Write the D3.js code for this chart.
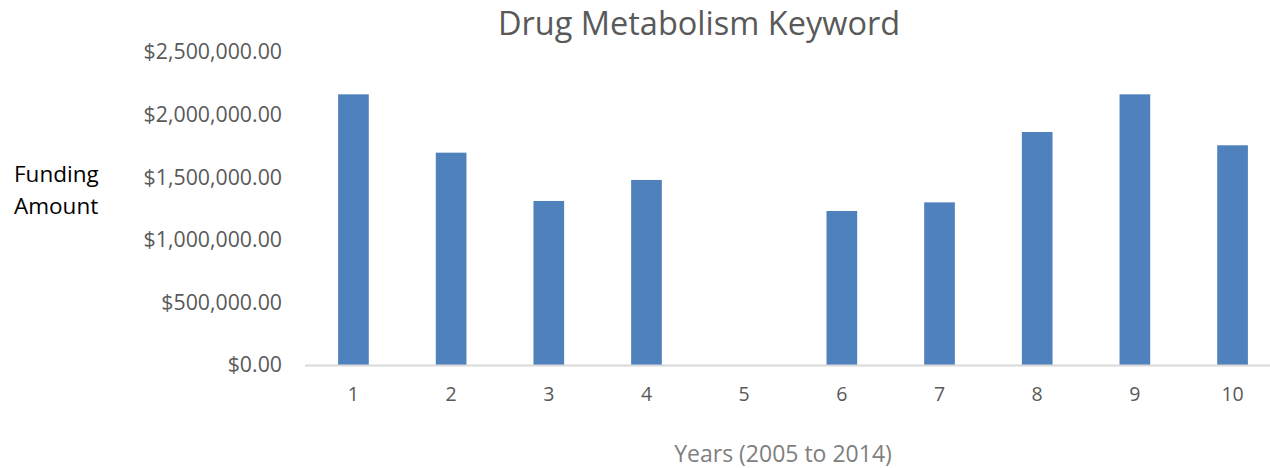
<!DOCTYPE html>
<html>
<head>
<meta charset="utf-8">
<script src="https://cdn.jsdelivr.net/npm/d3@7"></script>
<style>
  body { margin: 0; background: #fff; }
  text { font-family: "Open Sans", "Liberation Sans", sans-serif; }
</style>
</head>
<body>
<div id="chart"></div>
<script>
// chart data
var years = ["1","2","3","4","5","6","7","8","9","10"]
var funding = [2162000, 1696000, 1310000, 1478000, 0, 1230000, 1299000, 1861000, 2162000, 1755000]
var yTicks = [0, 500000, 1000000, 1500000, 2000000, 2500000]

var width = 1270, height = 468;

var svg = d3.select("#chart").append("svg")
    .attr("width", width)
    .attr("height", height);

var x = d3.scaleBand()
    .domain(years)
    .range([304.6, 1281.4])
    .paddingInner(0.686)
    .paddingOuter(0.343);

var y = d3.scaleLinear()
    .domain([0, 2500000])
    .range([365, 52]);

var money = d3.format("$,.2f");

// title
svg.append("text")
    .attr("x", 699)
    .attr("y", 35)
    .attr("text-anchor", "middle")
    .style("font-size", "32.5px")
    .style("fill", "#595959")
    .text("Drug Metabolism Keyword");

// y axis (labels only)
var yAxis = svg.append("g")
    .attr("transform", "translate(282,0)")
    .call(d3.axisLeft(y).tickValues(yTicks).tickFormat(money).tickSize(0).tickPadding(0));
yAxis.select(".domain").remove();
yAxis.selectAll("text")
    .style("font-size", "21.3px")
    .style("fill", "#595959")
    .style("font-family", "'Open Sans', sans-serif");

// bars
svg.selectAll("rect.bar")
    .data(funding)
    .enter()
    .append("rect")
    .attr("class", "bar")
    .attr("x", function(d,i) { return x(years[i]) })
    .attr("width", x.bandwidth())
    .attr("y", function(d) { return y(d) })
    .attr("height", function(d) { return y(0) - y(d) })
    .attr("fill", "#4f81bd");

// x axis
var xAxis = svg.append("g")
    .attr("transform", "translate(0," + y(0) + ")")
    .call(d3.axisBottom(x).tickSize(0).tickPadding(22));
xAxis.select(".domain")
    .attr("stroke", "#d9d9d9")
    .attr("stroke-width", 2);
xAxis.selectAll("text")
    .style("font-size", "19.5px")
    .style("fill", "#595959")
    .style("font-family", "'Open Sans', sans-serif");

// axis titles
svg.append("text")
    .attr("x", 783)
    .attr("y", 462)
    .attr("text-anchor", "middle")
    .style("font-size", "23px")
    .style("fill", "#7f7f7f")
    .text("Years (2005 to 2014)");

var yTitle = svg.append("text")
    .style("font-size", "22.5px")
    .style("fill", "#000");
yTitle.append("tspan").attr("x", 14).attr("y", 182).text("Funding");
yTitle.append("tspan").attr("x", 14).attr("y", 214).text("Amount");
</script>
</body>
</html>
